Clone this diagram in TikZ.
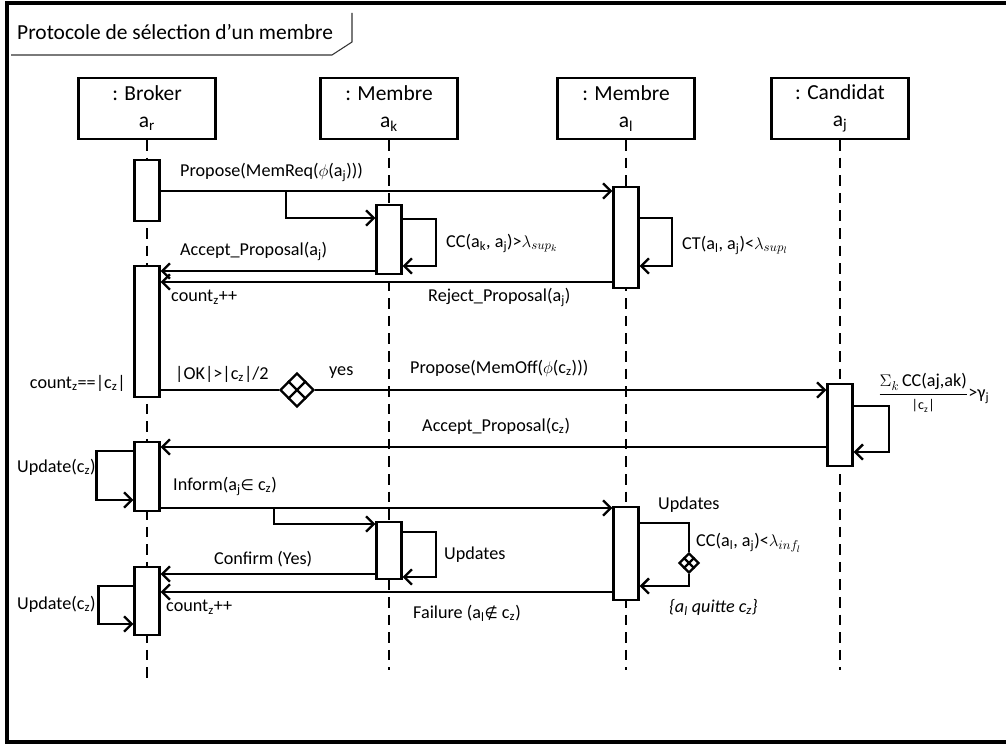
\documentclass[tikz,border=0pt]{standalone}
\usepackage{fontspec}
\setmainfont{Carlito}
\newfontfamily\symbfont{DejaVu Sans}
\usepackage{amsmath}
\usetikzlibrary{arrows.meta,shapes.geometric,calc}

\newlength{\du}
\setlength{\du}{0.8536pt}

\tikzset{
  lifehead/.style={draw, line width=2pt, fill=white, minimum width=137\du, minimum height=61\du,
    inner sep=0pt, align=center, font=\fontsize{18.3}{23}\selectfont},
  actbox/.style={draw, line width=2pt, fill=white, minimum width=25\du, inner sep=0pt},
  lifeline/.style={line width=2pt, dash pattern=on 9pt off 6pt},
  msgline/.style={line width=2pt},
  msg/.style={line width=2pt, -{Straight Barb[length=6.5pt,width=13pt,line width=2pt]}},
  msgtxt/.style={anchor=west, inner sep=0pt, font=\fontsize{15.5}{18}\selectfont},
  decision/.style={draw, diamond, fill=white, line width=2pt, inner sep=0pt},
}

\begin{document}
\begin{tikzpicture}
\pgftransformxscale{1.000000}
\pgftransformyscale{-1.000000}
\definecolor{dialinecolor}{rgb}{0.000000, 0.000000, 0.000000}
\pgfsetstrokecolor{dialinecolor}
\useasboundingbox (0\du,0\du) rectangle (1006\du,745\du);
% frame
\draw[line width=2.8pt] (7\du,3\du) rectangle (1015\du,742\du);
\draw[line width=0.9pt, black!80] (11\du,55\du)--(332\du,55\du)--(352\du,42\du)--(352\du,13\du);
\node[anchor=west, inner sep=0pt, font=\fontsize{18.3}{22}\selectfont] (title) at (17\du,32\du){Protocole de sélection d’un membre};
% lifelines
\node[lifehead] (broker) at (147\du,108.5\du){: Broker\\a\textsubscript{r}};
\node[lifehead] (membrek) at (389\du,108.5\du){: Membre\\a\textsubscript{k}};
\node[lifehead] (membrel) at (626\du,108.5\du){: Membre\\a\textsubscript{l}};
\node[lifehead] (candidat) at (840\du,108.5\du){: Candidat\\a\textsubscript{j}};
\coordinate (endbroker) at (147\du,682\du);
\coordinate (endmembrek) at (389\du,670\du);
\coordinate (endmembrel) at (626\du,670\du);
\coordinate (endcandidat) at (840\du,670\du);
\draw[lifeline] (broker.south)--(endbroker);
\draw[lifeline] (membrek.south)--(endmembrek);
\draw[lifeline] (membrel.south)--(endmembrel);
\draw[lifeline] (candidat.south)--(endcandidat);
% activations
\node[actbox, minimum height=61\du] (ar1) at (147\du,190.5\du){};
\node[actbox, minimum height=131\du] (ar2) at (147\du,331.5\du){};
\node[actbox, minimum height=69\du] (ar3) at (147\du,476.5\du){};
\node[actbox, minimum height=68\du] (ar4) at (147\du,601\du){};
\node[actbox, minimum height=69\du] (ak1) at (389\du,239.5\du){};
\node[actbox, minimum height=57\du] (ak2) at (389\du,550.5\du){};
\node[actbox, minimum height=101\du] (al1) at (626\du,237.5\du){};
\node[actbox, minimum height=93\du] (al2) at (626\du,553.5\du){};
\node[actbox, minimum height=82\du] (aj1) at (840\du,425\du){};
\node[decision, minimum width=34\du, minimum height=34\du] (majority) at (297\du,390\du){};
\node[decision, minimum width=20\du, minimum height=20\du] (quit) at (689\du,563\du){};
\foreach \d in {majority,quit}{
  \draw[msgline] ($(\d.north)!0.5!(\d.west)$)--($(\d.south)!0.5!(\d.east)$);
  \draw[msgline] ($(\d.north)!0.5!(\d.east)$)--($(\d.south)!0.5!(\d.west)$);
}
% message levels
\coordinate (yMemReq) at (0\du,191\du);
\coordinate (yToK) at (0\du,218\du);
\coordinate (yCCa) at (0\du,219\du);
\coordinate (yCCb) at (0\du,266\du);
\coordinate (yCTa) at (0\du,218\du);
\coordinate (yCTb) at (0\du,266\du);
\coordinate (yAccK) at (0\du,271\du);
\coordinate (yRej) at (0\du,282\du);
\coordinate (yOK) at (0\du,390\du);
\coordinate (ySuma) at (0\du,406\du);
\coordinate (ySumb) at (0\du,452\du);
\coordinate (yAccC) at (0\du,447\du);
\coordinate (yUpda) at (0\du,451\du);
\coordinate (yUpdb) at (0\du,500\du);
\coordinate (yInform) at (0\du,508\du);
\coordinate (yToK2) at (0\du,524\du);
\coordinate (yUpdKa) at (0\du,532\du);
\coordinate (yUpdKb) at (0\du,577\du);
\coordinate (yUpdLa) at (0\du,523\du);
\coordinate (yUpdLb) at (0\du,586\du);
\coordinate (yConfirm) at (0\du,574\du);
\coordinate (yFail) at (0\du,592\du);
\coordinate (yUpdc) at (0\du,586\du);
\coordinate (yUpdd) at (0\du,624\du);
\coordinate (fork1) at (286\du,191\du);
\coordinate (fork2) at (274\du,508\du);
% messages
\draw[msg] (ar1.east |- yMemReq)--(al1.west |- yMemReq);
\draw[msg] (fork1) |- (ak1.west |- yToK);
\draw[msg] (ak1.east |- yCCa)--++(33\du,0) |- (ak1.east |- yCCb);
\draw[msg] (al1.east |- yCTa)--++(32\du,0) |- (al1.east |- yCTb);
\draw[msg] (ak1.west |- yAccK)--(ar2.east |- yAccK);
\draw[msg] (al1.west |- yRej)--(ar2.east |- yRej);
\draw[msgline] (ar2.east |- yOK)--(majority);
\draw[msg] (majority)--(aj1.west |- yOK);
\draw[msg] (aj1.east |- ySuma)--++(35\du,0) |- (aj1.east |- ySumb);
\draw[msg] (aj1.west |- yAccC)--(ar3.east |- yAccC);
\draw[msg] (ar3.west |- yUpda)--++(-37\du,0) |- (ar3.west |- yUpdb);
\draw[msg] (ar3.east |- yInform)--(al2.west |- yInform);
\draw[msg] (fork2) |- (ak2.west |- yToK2);
\draw[msg] (ak2.east |- yUpdKa)--++(33\du,0) |- (ak2.east |- yUpdKb);
\draw[msgline] (al2.east |- yUpdLa) -| (quit);
\draw[msg] (quit) |- (al2.east |- yUpdLb);
\draw[msg] (ak2.west |- yConfirm)--(ar4.east |- yConfirm);
\draw[msg] (al2.west |- yFail)--(ar4.east |- yFail);
\draw[msg] (ar4.west |- yUpdc)--++(-35\du,0) |- (ar4.west |- yUpdd);
% labels
\node[msgtxt] (tMemReq) at (180\du,172\du){Propose(MemReq($\phi$(a\textsubscript{j})))};
\node[msgtxt] (tCCk) at (446\du,243\du){CC(a\textsubscript{k}, a\textsubscript{j})>$\lambda_{sup_k}$};
\node[msgtxt] (tAccK) at (180\du,251\du){Accept\_Proposal(a\textsubscript{j})};
\node[msgtxt] (tCTl) at (682\du,245\du){CT(a\textsubscript{l}, a\textsubscript{j})<$\lambda_{sup_l}$};
\node[msgtxt] (tCount1) at (171\du,297\du){count\textsubscript{z}++};
\node[msgtxt] (tRej) at (428\du,297\du){Reject\_Proposal(a\textsubscript{j})};
\node[msgtxt, anchor=east] (tCountEq) at (126\du,383\du){count\textsubscript{z}==|c\textsubscript{z}|};
\node[msgtxt] (tOK) at (175\du,374\du){|OK|>|c\textsubscript{z}|/2};
\node[msgtxt] (tYes) at (329\du,373\du){yes};
\node[msgtxt] (tMemOff) at (410\du,368\du){Propose(MemOff($\phi$(c\textsubscript{z})))};
\node[msgtxt] (tSum) at (878\du,393\du){$\dfrac{\Sigma_k\,\text{CC(aj,ak)}}{\text{\fontsize{12}{14}\selectfont |c\textsubscript{z}|}}$>γ\textsubscript{j}};
\node[msgtxt] (tAccC) at (422\du,426\du){Accept\_Proposal(c\textsubscript{z})};
\node[msgtxt] (tUpd1) at (17\du,467\du){Update(c\textsubscript{z})};
\node[msgtxt] (tInform) at (173\du,486\du){Inform(a\textsubscript{j}{\symbfont\fontsize{13}{15}\selectfont ∈} c\textsubscript{z})};
\node[msgtxt] (tUpdK) at (444\du,555\du){Updates};
\node[msgtxt] (tUpdL) at (658\du,505\du){Updates};
\node[msgtxt] (tCCl) at (696\du,543\du){CC(a\textsubscript{l}, a\textsubscript{j})<$\lambda_{inf_l}$};
\node[msgtxt] (tQuit) at (669\du,607\du){\textit{\{a\textsubscript{l} quitte c\textsubscript{z}\}}};
\node[msgtxt] (tConfirm) at (214\du,559\du){Confirm (Yes)};
\node[msgtxt] (tFail) at (413\du,613\du){Failure (a\textsubscript{l}{\symbfont\fontsize{13}{15}\selectfont ∉} c\textsubscript{z})};
\node[msgtxt] (tCount2) at (166\du,607\du){count\textsubscript{z}++};
\node[msgtxt] (tUpd2) at (17\du,604\du){Update(c\textsubscript{z})};
\end{tikzpicture}
\end{document}
